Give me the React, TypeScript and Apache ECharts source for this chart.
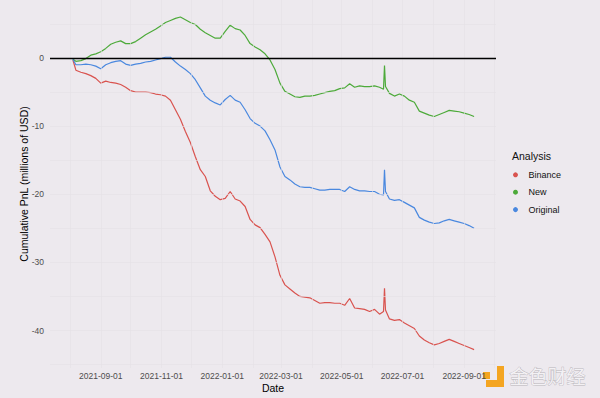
import React, { useEffect, useRef } from "react";
import * as echarts from "echarts";

const DATES = [
  "2021-08-04", "2021-08-07", "2021-08-12", "2021-08-17", "2021-08-22", "2021-08-27",
  "2021-09-01", "2021-09-06", "2021-09-11", "2021-09-16", "2021-09-21", "2021-09-26",
  "2021-10-01", "2021-10-06", "2021-10-11", "2021-10-16", "2021-10-21", "2021-10-26", "2021-10-31",
  "2021-11-05", "2021-11-10", "2021-11-15", "2021-11-20", "2021-11-25", "2021-11-30",
  "2021-12-05", "2021-12-10", "2021-12-15", "2021-12-20", "2021-12-25", "2021-12-30",
  "2022-01-04", "2022-01-09", "2022-01-14", "2022-01-19", "2022-01-24", "2022-01-29",
  "2022-02-03", "2022-02-08", "2022-02-13", "2022-02-18", "2022-02-23", "2022-02-28",
  "2022-03-05", "2022-03-10", "2022-03-15", "2022-03-20", "2022-03-25", "2022-03-30",
  "2022-04-04", "2022-04-09", "2022-04-14", "2022-04-19", "2022-04-24", "2022-04-29",
  "2022-05-04", "2022-05-09", "2022-05-14", "2022-05-19", "2022-05-24", "2022-05-29",
  "2022-06-03", "2022-06-08", "2022-06-12", "2022-06-13", "2022-06-14",
  "2022-06-18", "2022-06-23", "2022-06-28",
  "2022-07-03", "2022-07-08", "2022-07-13", "2022-07-18", "2022-07-23", "2022-07-28",
  "2022-08-02", "2022-08-07", "2022-08-12", "2022-08-17", "2022-08-22", "2022-08-27",
  "2022-09-01", "2022-09-06", "2022-09-11",
];

const BINANCE = [
  -0.3, -1.8, -2.1, -2.3, -2.6, -3.0,
  -3.7, -3.4, -3.6, -3.7, -3.9, -4.3,
  -4.8, -5.0, -5.0, -5.0, -5.1, -5.3, -5.4,
  -5.6, -6.2, -7.6, -9.0, -10.8, -12.4,
  -14.5, -16.4, -17.4, -19.5, -20.3, -20.8,
  -20.6, -19.6, -20.7, -21.0, -21.8, -23.7,
  -24.5, -24.9, -25.9, -27.0, -29.2, -31.9,
  -33.3, -33.9, -34.5, -35.0, -35.1, -35.2,
  -35.6, -36.0, -35.9, -35.9, -36.0, -36.0,
  -36.3, -35.3, -36.7, -36.8, -36.9, -37.2,
  -36.9, -37.6, -37.2, -33.8, -37.0,
  -38.3, -38.5, -38.4,
  -38.9, -39.3, -39.7, -40.8, -41.4, -41.8,
  -42.1, -41.9, -41.6, -41.3, -41.6, -41.9,
  -42.2, -42.5, -42.8,
];

const NEW_VALUES = [
  -0.2, -0.5, -0.4, -0.1, 0.4, 0.6,
  0.9, 1.4, 2.0, 2.3, 2.5, 2.1,
  2.1, 2.4, 2.9, 3.4, 3.8, 4.2, 4.7,
  5.2, 5.5, 5.8, 6.0, 5.6, 5.2,
  4.9, 4.2, 3.7, 3.3, 2.9, 2.9,
  3.9, 4.8, 4.3, 4.1, 3.3, 2.1,
  1.6, 1.2, 0.6, -0.3, -1.7, -3.7,
  -4.9, -5.3, -5.7, -5.8, -5.6, -5.6,
  -5.5, -5.3, -5.1, -4.9, -4.8, -4.5,
  -4.4, -3.8, -4.3, -4.1, -4.2, -4.2,
  -4.1, -4.3, -4.6, -1.1, -4.2,
  -5.2, -5.6, -5.3,
  -5.6, -6.2, -6.5, -7.8, -8.1, -8.4,
  -8.6, -8.3, -8.0, -7.7, -7.8, -7.9,
  -8.1, -8.3, -8.6,
];

const ORIGINAL = [
  -0.2, -1.0, -1.0, -0.9, -1.0, -1.2,
  -1.6, -1.0, -0.7, -0.5, -0.4, -0.9,
  -1.1, -0.9, -0.8, -0.6, -0.5, -0.3, -0.1,
  0.1, 0.1, -0.6, -1.2, -1.7, -2.3,
  -3.2, -4.4, -5.6, -6.2, -6.6, -6.9,
  -6.1, -5.5, -6.2, -6.5, -7.6, -8.9,
  -9.6, -10.0, -10.7, -12.0, -13.5, -16.0,
  -17.4, -17.9, -18.5, -18.9, -19.0, -19.0,
  -19.2, -19.4, -19.4, -19.3, -19.3, -19.3,
  -19.6, -18.9, -19.3, -19.5, -19.5, -19.6,
  -19.6, -20.0, -20.1, -16.4, -19.6,
  -20.7, -20.9, -20.8,
  -21.2, -21.6, -22.0, -23.4, -23.8, -24.1,
  -24.3, -24.2, -23.9, -23.7, -23.9, -24.1,
  -24.3, -24.6, -25.0,
];

const SERIES_NAMES = ["Binance", "New", "Original"];
const SERIES_COLORS = ["#D9534F", "#4DAA3A", "#4A88DF"];

const X_TICKS = ["2021-09-01", "2021-11-01", "2022-01-01", "2022-03-01", "2022-05-01", "2022-07-01", "2022-09-01"];
const X_GRID = [
  "2021-08-01", "2021-09-01", "2021-10-01", "2021-11-01", "2021-12-01", "2022-01-01", "2022-02-01",
  "2022-03-01", "2022-04-01", "2022-05-01", "2022-06-01", "2022-07-01", "2022-08-01", "2022-09-01", "2022-10-01",
];
const Y_TICKS = [-40, -30, -20, -10, 0];
const Y_GRID = [-45, -40, -35, -30, -25, -20, -15, -10, -5, 0, 5];

const X_MIN = "2021-07-12";
const X_MAX = "2022-10-03";
const Y_MIN = -45.5;
const Y_MAX = 8.5;

const BG = "#EDE9EE";
const GRID_COLOR = "#E4E0E6";
const FONT = "'Liberation Sans', Arial, Helvetica, sans-serif";

const ts = (s: string) => {
  const [y, m, d] = s.split("-").map(Number);
  return Date.UTC(y, m - 1, d);
};
const pad = (n: number) => (n < 10 ? "0" + n : "" + n);
const fmt = (v: number) => {
  const d = new Date(v);
  return d.getUTCFullYear() + "-" + pad(d.getUTCMonth() + 1) + "-" + pad(d.getUTCDate());
};

export default function App() {
  const ref = useRef<HTMLDivElement>(null);
  useEffect(() => {
    if (!ref.current) return;
    const chart = echarts.init(ref.current, null, { renderer: "svg" });
    const valueSets = [BINANCE, NEW_VALUES, ORIGINAL];
    const dataSeries = SERIES_NAMES.map((name, i) => ({
      name,
      type: "line",
      data: DATES.map((d, j) => [ts(d), valueSets[i][j]]),
      showSymbol: false,
      symbol: "circle",
      z: 2,
      lineStyle: { color: SERIES_COLORS[i], width: 1.2 },
      itemStyle: { color: SERIES_COLORS[i] },
      emphasis: { disabled: true },
    }));
    const option: any = {
      animation: false,
      backgroundColor: BG,
      textStyle: { fontFamily: FONT },
      grid: { left: 50, right: 104, top: 0, bottom: 29.5, containLabel: false },
      title: {
        text: "Analysis",
        left: 512,
        top: 150,
        padding: 0,
        textStyle: { fontSize: 10.5, fontWeight: "normal", color: "#111", fontFamily: FONT },
      },
      legend: {
        data: SERIES_NAMES,
        orient: "vertical",
        left: 513,
        top: 168.8,
        padding: 0,
        icon: "circle",
        itemWidth: 16,
        itemHeight: 5,
        itemGap: 5.4,
        selectedMode: false,
        textStyle: { fontSize: 9, color: "#111", lineHeight: 12, fontFamily: FONT },
      },
      xAxis: {
        type: "value",
        min: ts(X_MIN),
        max: ts(X_MAX),
        axisLine: { show: false },
        axisTick: { show: false },
        splitLine: { show: false },
        axisLabel: {
          customValues: X_TICKS.map(ts),
          formatter: (v: number) => fmt(v),
          color: "#4D4D4D",
          fontSize: 8.5,
          margin: 3,
          hideOverlap: false,
          showMinLabel: true,
          showMaxLabel: true,
          fontFamily: FONT,
        },
        name: "Date",
        nameLocation: "middle",
        nameGap: 14,
        nameMoveOverlap: false,
        nameTextStyle: { fontSize: 10.5, color: "#000", fontFamily: FONT },
      },
      yAxis: {
        type: "value",
        min: Y_MIN,
        max: Y_MAX,
        axisLine: { show: false },
        axisTick: { show: false },
        splitLine: { show: false },
        axisLabel: {
          customValues: Y_TICKS,
          color: "#4D4D4D",
          fontSize: 8.5,
          margin: 6,
          fontFamily: FONT,
        },
        name: "Cumulative PnL (millions of USD)",
        nameLocation: "middle",
        nameGap: 21,
        nameMoveOverlap: false,
        nameTextStyle: { fontSize: 10.5, color: "#000", fontFamily: FONT },
      },
      graphic: [
        { type: "rect", shape: { x: 497, y: 366, width: 7, height: 21 }, style: { fill: "#F4A521" }, silent: true },
        { type: "rect", shape: { x: 486, y: 380, width: 18, height: 7 }, style: { fill: "#F4A521" }, silent: true },
        { type: "rect", shape: { x: 483, y: 372, width: 7, height: 7 }, style: { fill: "#F4A521" }, silent: true },
        {
          type: "text",
          left: 509,
          top: 366,
          silent: true,
          style: {
            text: "金色财经",
            fontSize: 19,
            fontFamily: "'Noto Sans CJK SC', sans-serif",
            fill: "#F3F1F4",
            stroke: "#B9B5BB",
            lineWidth: 0.8,
          },
        },
      ],
      series: [
        {
          type: "line",
          data: [],
          silent: true,
          z: 1,
          markLine: {
            silent: true,
            symbol: ["none", "none"],
            label: { show: false },
            emphasis: { disabled: true },
            lineStyle: { color: GRID_COLOR, width: 0.6, type: "solid" },
            data: [...X_GRID.map((d) => ({ xAxis: ts(d) })), ...Y_GRID.map((v) => ({ yAxis: v }))],
          },
        },
        ...dataSeries,
        {
          type: "line",
          data: [],
          silent: true,
          z: 3,
          markLine: {
            silent: true,
            symbol: ["none", "none"],
            label: { show: false },
            emphasis: { disabled: true },
            lineStyle: { color: "#000", width: 1.3, type: "solid" },
            data: [{ yAxis: 0 }],
          },
        },
      ],
    };
    chart.setOption(option);
    return () => chart.dispose();
  }, []);
  return (
    <div
      ref={ref}
      style={{ position: "fixed", left: 0, top: 0, width: 600, height: 398 }}
    />
  );
}
